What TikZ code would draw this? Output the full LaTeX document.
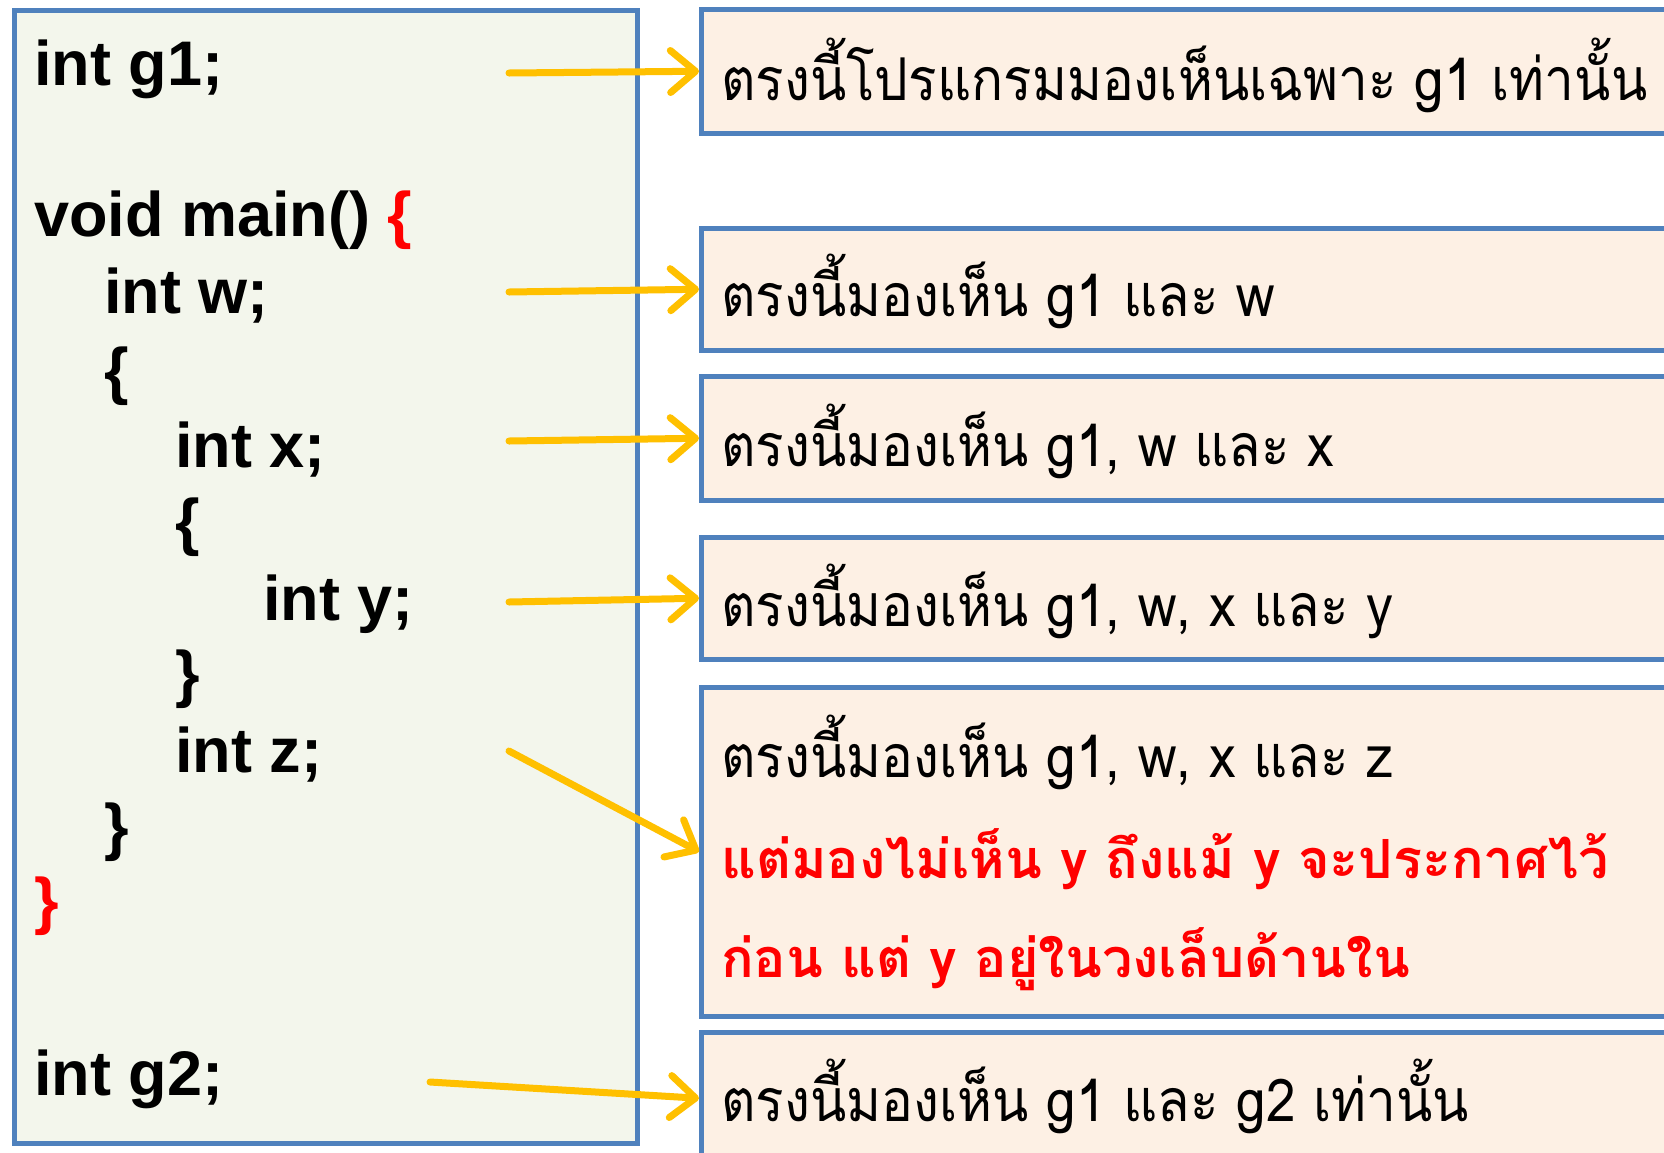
\documentclass[tikz,border=0pt]{standalone}
\usepackage{fontspec}
\setmainfont{Liberation Sans}
\newfontfamily\thaifont[Script=Thai]{Loma}
\newfontfamily\thainarrow[Script=Thai, FakeStretch=0.9]{Loma}
\usetikzlibrary{arrows.meta}
\definecolor{bordblue}{HTML}{4F81BD}
\definecolor{codebg}{HTML}{F3F6EC}
\definecolor{notebg}{HTML}{FDF0E4}
\definecolor{arrowyel}{HTML}{FFC000}
\definecolor{redtxt}{HTML}{FF0000}
\tikzset{
  codebox/.style={draw=bordblue, line width=4.5pt, fill=codebg},
  notebox/.style={draw=bordblue, line width=4.5pt, fill=notebg, anchor=north west, minimum width=1000pt, inner sep=0pt},
  code/.style={anchor=base west, inner sep=0pt, font=\fontsize{63}{70}\selectfont\bfseries},
  note/.style={anchor=base west, inner sep=0pt, font=\fontsize{59}{65}\selectfont\thainarrow},
  rednote/.style={anchor=base west, inner sep=0pt, text=redtxt, font=\fontsize{54}{60}\selectfont\thaifont\bfseries},
  yarrow/.style={draw=arrowyel, line width=7pt, line cap=round, -{Straight Barb[length=25pt, width=42pt, round]}}
}
\begin{document}
\begin{tikzpicture}[x=1pt, y=-1pt]
\clip (0,0) rectangle (1664,1152);
\fill[white] (0,0) rectangle (1664,1152);
% code panel
\node[codebox, anchor=north west, minimum width=623pt, minimum height=1133pt, inner sep=0pt] (panel) at (12,8) {};
\node[code] (l1) at (34,85) {int g1;};
\node[code] (l2) at (34,236) {void main() \textcolor{redtxt}{\{}};
\node[code] (l3) at (104,313) {int w;};
\node[code] (l4) at (104,392) {\{};
\node[code] (l5) at (175,467) {int x;};
\node[code] (l6) at (175,543) {\{};
\node[code] (l7) at (263,620) {int y;};
\node[code] (l8) at (175,695) {\}};
\node[code] (l9) at (175,772) {int z;};
\node[code] (l10) at (104,848) {\}};
\node[code, text=redtxt] (l11) at (34,922) {\}};
\node[code] (l12) at (34,1095) {int g2;};
% note boxes
\node[notebox, minimum height=124pt] (b1) at (699,7) {};
\node[notebox, minimum height=122pt] (b2) at (699,226) {};
\node[notebox, minimum height=124pt] (b3) at (699,374) {};
\node[notebox, minimum height=122pt] (b4) at (699,535) {};
\node[notebox, minimum height=329pt] (b5) at (699,685) {};
\node[notebox, minimum height=132pt] (b6) at (699,1030) {};
% note texts
\node[note] (t1) at (721,100) {ตรงนี้โปรแกรมมองเห็นเฉพาะ g1 เท่านั้น};
\node[note] (t2) at (721,316) {ตรงนี้มองเห็น g1 และ w};
\node[note] (t3) at (721,466) {ตรงนี้มองเห็น g1, w และ x};
\node[note] (t4) at (721,626) {ตรงนี้มองเห็น g1, w, x และ y};
\node[note] (t5) at (721,777) {ตรงนี้มองเห็น g1, w, x และ z};
\node[rednote] (t6) at (721,878) {แต่มองไม่เห็น y ถึงแม้ y จะประกาศไว้};
\node[rednote] (t7) at (721,977) {ก่อน แต่ y อยู่ในวงเล็บด้านใน};
\node[note] (t8) at (721,1121) {ตรงนี้มองเห็น g1 และ g2 เท่านั้น};
% arrow starts
\coordinate (s1) at (509,73);
\coordinate (s2) at (509,292);
\coordinate (s3) at (509,441);
\coordinate (s4) at (509,602);
\coordinate (s5) at (509,751);
\coordinate (s6) at (430,1082);
\draw[yarrow] (s1) -- (b1.west);
\draw[yarrow] (s2) -- (b2.west);
\draw[yarrow] (s3) -- (b3.west);
\draw[yarrow] (s4) -- (b4.west);
\draw[yarrow] (s5) -- (b5.west);
\draw[yarrow] (s6) -- (b6.west);
\end{tikzpicture}
\end{document}
